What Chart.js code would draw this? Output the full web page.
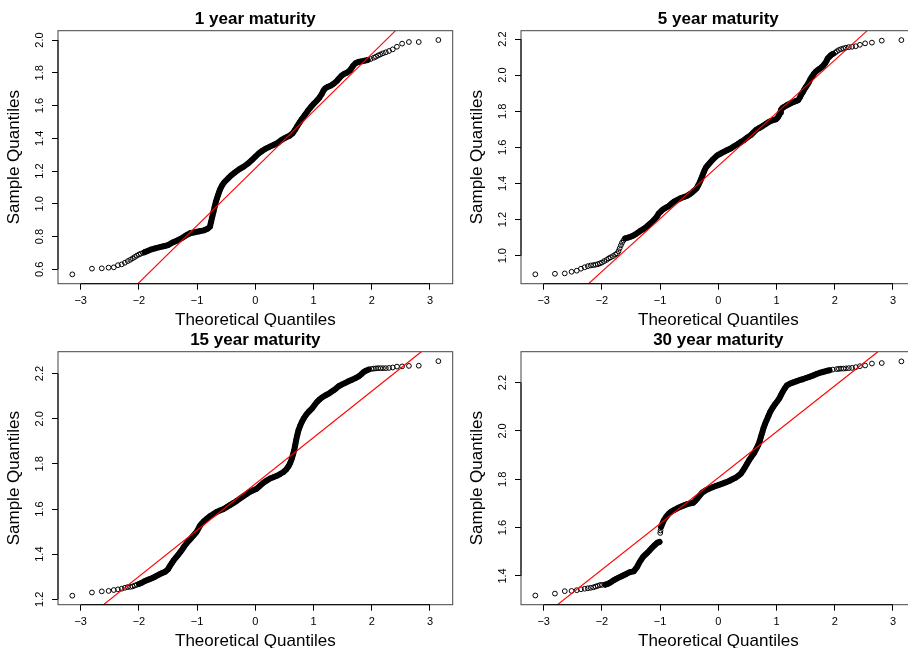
<!DOCTYPE html>
<html>
<head>
<meta charset="utf-8">
<title>Normal Q-Q plots by maturity</title>
<script src="https://cdn.jsdelivr.net/npm/chart.js@4.4.1/dist/chart.umd.min.js"></script>
<style>
  html, body { margin: 0; padding: 0; background: #fff; overflow: hidden; width: 908px; height: 654px; }
  canvas.panel { position: absolute; }
</style>
</head>
<body>
<canvas id="qq1" class="panel" width="454" height="327" style="left:0;top:0"></canvas>
<canvas id="qq5" class="panel" width="454" height="327" style="left:463px;top:0"></canvas>
<canvas id="qq15" class="panel" width="454" height="327" style="left:0;top:321px"></canvas>
<canvas id="qq30" class="panel" width="454" height="327" style="left:463px;top:321px"></canvas>
<script>
Chart.defaults.font.family = "'Liberation Sans', Arial, sans-serif";
Chart.defaults.color = '#000';
Chart.defaults.animation = false;
Chart.defaults.responsive = false;
Chart.defaults.events = [];
Chart.defaults.plugins.legend.display = false;
Chart.defaults.plugins.tooltip.enabled = false;

// shared x axis (theoretical quantiles)
const xTicks = [-3, -2, -1, 0, 1, 2, 3];
const xLimits = [-3.39, 3.39];

const titles = ['1 year maturity', '5 year maturity', '15 year maturity', '30 year maturity'];

const yTicks1 = [0.6, 0.8, 1.0, 1.2, 1.4, 1.6, 1.8, 2.0];
const yTicks5 = [1.0, 1.2, 1.4, 1.6, 1.8, 2.0, 2.2];
const yTicks15 = [1.2, 1.4, 1.6, 1.8, 2.0, 2.2];
const yTicks30 = [1.4, 1.6, 1.8, 2.0, 2.2];

const yLimits1 = [0.512, 2.057];
const yLimits5 = [0.845, 2.246];
const yLimits15 = [1.176, 2.297];
const yLimits30 = [1.281, 2.328];

// [theoretical, sample] quantile pairs
const q1 = [
  [-3.144,0.569],[-2.807,0.604],[-2.638,0.606],[-2.521,0.610],[-2.432,0.612],[-2.36,0.625],[-2.296,0.630],
  [-2.241,0.640],[-2.192,0.650],[-2.148,0.658],[-2.108,0.667],[-2.071,0.675],[-2.036,0.683],[-2.0,0.690],
  [-1.97,0.695],[-1.93,0.700],[-1.9,0.705],[-1.85,0.712],[-1.8,0.720],[-1.72,0.728],[-1.64,0.735],
  [-1.56,0.742],[-1.5,0.748],[-1.42,0.764],[-1.35,0.775],[-1.28,0.787],[-1.2,0.805],[-1.12,0.820],
  [-1.04,0.826],[-0.96,0.832],[-0.88,0.838],[-0.82,0.848],[-0.78,0.860],[-0.76,0.890],[-0.74,0.920],
  [-0.72,0.950],[-0.70,0.980],[-0.68,1.010],[-0.66,1.033],[-0.64,1.054],[-0.62,1.074],[-0.60,1.092],
  [-0.57,1.113],[-0.53,1.133],[-0.48,1.151],[-0.42,1.172],[-0.35,1.192],[-0.28,1.210],[-0.2,1.227],
  [-0.13,1.245],[-0.06,1.267],[0.0,1.288],[0.06,1.308],[0.12,1.324],[0.18,1.337],[0.25,1.349],
  [0.32,1.361],[0.39,1.373],[0.45,1.390],[0.52,1.404],[0.58,1.414],[0.64,1.430],[0.68,1.451],
  [0.72,1.475],[0.76,1.497],[0.8,1.518],[0.85,1.542],[0.9,1.567],[0.95,1.589],[1.0,1.609],
  [1.05,1.628],[1.1,1.648],[1.14,1.670],[1.17,1.691],[1.2,1.705],[1.25,1.715],[1.3,1.723],
  [1.35,1.735],[1.4,1.750],[1.44,1.766],[1.48,1.782],[1.52,1.792],[1.57,1.800],[1.62,1.813],
  [1.65,1.827],[1.68,1.843],[1.72,1.858],[1.77,1.866],[1.83,1.870],[1.88,1.874],[1.93,1.878],
  [1.98,1.884],[2.036,1.892],[2.071,1.898],[2.108,1.906],[2.148,1.912],[2.192,1.919],[2.241,1.925],
  [2.296,1.933],[2.36,1.943],[2.432,1.959],[2.521,1.978],[2.638,1.988],[2.807,1.988],[3.144,2.0]
];

const q5 = [
  [-3.144,0.897],[-2.807,0.900],[-2.638,0.902],[-2.521,0.911],[-2.432,0.917],[-2.36,0.928],[-2.296,0.936],
  [-2.241,0.942],[-2.192,0.946],[-2.148,0.948],[-2.108,0.950],[-2.071,0.953],[-2.036,0.957],[-2.0,0.962],
  [-1.96,0.970],[-1.92,0.977],[-1.885,0.985],[-1.85,0.991],[-1.81,0.998],[-1.77,1.006],[-1.74,1.013],
  [-1.715,1.025],[-1.695,1.041],[-1.675,1.057],[-1.655,1.072],[-1.63,1.085],[-1.6,1.096],[-1.555,1.100],
  [-1.51,1.105],[-1.465,1.111],[-1.425,1.118],[-1.38,1.128],[-1.34,1.138],[-1.295,1.146],[-1.253,1.155],
  [-1.21,1.167],[-1.167,1.179],[-1.12,1.193],[-1.08,1.207],[-1.05,1.220],[-1.023,1.234],[-0.985,1.246],
  [-0.948,1.257],[-0.9,1.266],[-0.851,1.275],[-0.81,1.287],[-0.764,1.299],[-0.71,1.308],[-0.649,1.318],
  [-0.59,1.325],[-0.534,1.332],[-0.49,1.341],[-0.448,1.351],[-0.41,1.362],[-0.374,1.373],[-0.345,1.390],
  [-0.316,1.410],[-0.296,1.425],[-0.276,1.441],[-0.256,1.458],[-0.236,1.474],[-0.21,1.490],[-0.178,1.502],
  [-0.14,1.516],[-0.103,1.530],[-0.06,1.543],[-0.017,1.556],[0.04,1.566],[0.098,1.576],[0.155,1.585],
  [0.213,1.594],[0.27,1.606],[0.328,1.617],[0.385,1.629],[0.443,1.641],[0.5,1.655],[0.557,1.668],
  [0.6,1.682],[0.644,1.696],[0.7,1.707],[0.759,1.718],[0.815,1.730],[0.874,1.742],[0.93,1.750],
  [0.989,1.755],[1.02,1.765],[1.046,1.779],[1.06,1.793],[1.075,1.807],[1.1,1.818],[1.132,1.825],
  [1.175,1.833],[1.218,1.840],[1.26,1.847],[1.305,1.853],[1.34,1.857],[1.374,1.862],[1.4,1.876],
  [1.42,1.890],[1.45,1.905],[1.477,1.921],[1.505,1.935],[1.534,1.949],[1.56,1.963],[1.58,1.978],
  [1.61,1.992],[1.638,2.006],[1.67,2.018],[1.707,2.028],[1.735,2.035],[1.764,2.041],[1.8,2.052],
  [1.833,2.065],[1.86,2.080],[1.879,2.093],[1.91,2.103],[1.937,2.111],[1.97,2.118],[2.006,2.124],
  [2.036,2.132],[2.071,2.139],[2.108,2.144],[2.148,2.148],[2.192,2.152],[2.241,2.155],[2.296,2.157],
  [2.36,2.160],[2.432,2.168],[2.521,2.176],[2.638,2.180],[2.807,2.191],[3.144,2.194]
];

const q15 = [
  [-3.144,1.216],[-2.807,1.230],[-2.638,1.235],[-2.521,1.237],[-2.432,1.241],[-2.36,1.244],[-2.296,1.247],
  [-2.241,1.251],[-2.192,1.254],[-2.148,1.255],[-2.108,1.257],[-2.071,1.261],[-2.036,1.264],[-2.0,1.268],
  [-1.96,1.272],[-1.902,1.280],[-1.86,1.285],[-1.816,1.289],[-1.77,1.294],[-1.73,1.299],[-1.69,1.305],
  [-1.644,1.311],[-1.6,1.316],[-1.557,1.321],[-1.53,1.326],[-1.5,1.333],[-1.48,1.342],[-1.46,1.351],
  [-1.43,1.362],[-1.402,1.373],[-1.365,1.385],[-1.328,1.396],[-1.29,1.409],[-1.253,1.422],[-1.22,1.435],
  [-1.184,1.447],[-1.14,1.460],[-1.098,1.472],[-1.055,1.485],[-1.011,1.498],[-0.98,1.512],[-0.954,1.525],
  [-0.92,1.536],[-0.885,1.546],[-0.83,1.558],[-0.782,1.568],[-0.72,1.578],[-0.667,1.587],[-0.61,1.593],
  [-0.552,1.599],[-0.495,1.608],[-0.437,1.617],[-0.38,1.626],[-0.322,1.636],[-0.265,1.646],[-0.207,1.656],
  [-0.15,1.666],[-0.092,1.676],[-0.035,1.683],[0.023,1.690],[0.08,1.703],[0.138,1.716],[0.195,1.726],
  [0.253,1.735],[0.31,1.741],[0.368,1.747],[0.425,1.755],[0.483,1.764],[0.53,1.775],[0.569,1.789],
  [0.6,1.805],[0.626,1.823],[0.648,1.842],[0.667,1.860],[0.685,1.883],[0.701,1.905],[0.72,1.927],
  [0.741,1.949],[0.768,1.968],[0.799,1.986],[0.835,2.003],[0.874,2.018],[0.92,2.032],[0.971,2.045],
  [1.015,2.060],[1.057,2.074],[1.1,2.085],[1.144,2.094],[1.2,2.103],[1.259,2.111],[1.3,2.118],
  [1.345,2.126],[1.39,2.135],[1.431,2.144],[1.49,2.152],[1.546,2.159],[1.6,2.166],[1.661,2.173],
  [1.72,2.180],[1.776,2.188],[1.82,2.197],[1.862,2.207],[1.9,2.213],[1.948,2.218],[2.0,2.221],
  [2.036,2.222],[2.071,2.223],[2.108,2.224],[2.148,2.224],[2.192,2.224],[2.241,2.224],[2.296,2.225],
  [2.36,2.227],[2.432,2.231],[2.521,2.232],[2.638,2.234],[2.807,2.235],[3.144,2.255]
];

const q30 = [
  [-3.144,1.319],[-2.807,1.327],[-2.638,1.337],[-2.521,1.338],[-2.432,1.341],[-2.36,1.345],[-2.296,1.347],
  [-2.241,1.349],[-2.192,1.351],[-2.148,1.353],[-2.108,1.356],[-2.071,1.359],[-2.036,1.362],[-2.0,1.363],
  [-1.943,1.364],[-1.9,1.367],[-1.868,1.371],[-1.83,1.377],[-1.799,1.382],[-1.755,1.388],[-1.713,1.393],
  [-1.67,1.398],[-1.626,1.403],[-1.583,1.408],[-1.54,1.414],[-1.5,1.417],[-1.454,1.419],[-1.425,1.428],
  [-1.397,1.437],[-1.375,1.447],[-1.351,1.458],[-1.32,1.469],[-1.293,1.479],[-1.26,1.487],[-1.224,1.495],
  [-1.18,1.506],[-1.138,1.517],[-1.095,1.527],[-1.052,1.537],[-1.01,1.541],[-0.998,1.578],[-0.993,1.588],
  [-0.983,1.603],[-0.96,1.617],[-0.937,1.630],[-0.895,1.645],[-0.851,1.658],[-0.81,1.666],[-0.764,1.672],
  [-0.705,1.680],[-0.649,1.686],[-0.59,1.692],[-0.534,1.697],[-0.48,1.700],[-0.431,1.703],[-0.395,1.711],
  [-0.362,1.720],[-0.32,1.733],[-0.276,1.745],[-0.22,1.754],[-0.161,1.761],[-0.1,1.767],[-0.046,1.772],
  [0.01,1.777],[0.069,1.782],[0.125,1.787],[0.184,1.793],[0.24,1.800],[0.299,1.807],[0.345,1.815],
  [0.385,1.823],[0.42,1.835],[0.454,1.848],[0.49,1.863],[0.529,1.879],[0.57,1.894],[0.615,1.909],
  [0.65,1.925],[0.684,1.941],[0.71,1.958],[0.73,1.975],[0.755,1.994],[0.776,2.012],[0.8,2.028],
  [0.828,2.044],[0.86,2.062],[0.891,2.079],[0.93,2.095],[0.971,2.110],[1.01,2.122],[1.046,2.134],
  [1.075,2.148],[1.103,2.161],[1.14,2.176],[1.178,2.189],[1.225,2.195],[1.276,2.200],[1.335,2.205],
  [1.391,2.210],[1.45,2.214],[1.506,2.219],[1.565,2.224],[1.621,2.229],[1.68,2.235],[1.736,2.240],
  [1.795,2.244],[1.851,2.248],[1.91,2.251],[1.966,2.254],[2.036,2.256],[2.071,2.257],[2.108,2.258],
  [2.148,2.258],[2.192,2.259],[2.241,2.260],[2.296,2.261],[2.36,2.264],[2.432,2.268],[2.521,2.271],
  [2.638,2.279],[2.807,2.281],[3.144,2.288]
];

// qqline end points where the reference line meets the plot frame
const line1 = [[-2.017, 0.512], [2.408, 2.057]];
const line5 = [[-2.23, 0.845], [2.557, 2.246]];
const line15 = [[-2.609, 1.176], [2.851, 2.297]];
const line30 = [[-2.764, 1.281], [2.741, 2.328]];

const panels = [
  { id: 'qq1',  title: titles[0], points: q1,  line: line1,  yTicks: yTicks1,  yLimits: yLimits1,  band: [[-1.9, 1.95]] },
  { id: 'qq5',  title: titles[1], points: q5,  line: line5,  yTicks: yTicks5,  yLimits: yLimits5,  band: [[-1.6, 2.0]] },
  { id: 'qq15', title: titles[2], points: q15, line: line15, yTicks: yTicks15, yLimits: yLimits15, band: [[-2.0, 1.95]] },
  { id: 'qq30', title: titles[3], points: q30, line: line30, yTicks: yTicks30, yLimits: yLimits30, band: [[-1.95, -1.0], [-0.985, 1.95]] }
];

const FONT = "'Liberation Sans', Arial, sans-serif";
const RED = 'rgb(255, 0, 0)';

// base-graphics look: box, axis lines spanning the ticks, vertical y labels
const rFrame = {
  id: 'rFrame',
  afterDraw(chart) {
    const { ctx, chartArea: a, scales: { x, y } } = chart;
    ctx.save();
    ctx.lineWidth = 1;
    ctx.strokeStyle = '#444';
    ctx.strokeRect(a.left, a.top, a.right - a.left, a.bottom - a.top);

    const xt = x.ticks, yt = y.ticks;
    ctx.strokeStyle = '#000';
    ctx.beginPath();
    ctx.moveTo(x.getPixelForValue(xt[0].value), a.bottom);
    ctx.lineTo(x.getPixelForValue(xt[xt.length - 1].value), a.bottom);
    ctx.moveTo(a.left, y.getPixelForValue(yt[0].value));
    ctx.lineTo(a.left, y.getPixelForValue(yt[yt.length - 1].value));
    ctx.stroke();

    ctx.fillStyle = '#000';
    ctx.font = '11px ' + FONT;
    ctx.textAlign = 'center';
    ctx.textBaseline = 'alphabetic';
    yt.forEach(t => {
      ctx.save();
      ctx.translate(a.left - 15, y.getPixelForValue(t.value));
      ctx.rotate(-Math.PI / 2);
      ctx.fillText(t.value.toFixed(1), 0, 0);
      ctx.restore();
    });
    ctx.restore();
  }
};

const toXY = pairs => pairs.map(([x, y]) => ({ x, y }));
const minus = v => (v < 0 ? '\u2212' + Math.abs(v) : String(v));

function qqChart(p) {
  const bandPts = p.points.filter(([x]) => p.band.some(([lo, hi]) => x >= lo && x <= hi));
  return new Chart(document.getElementById(p.id), {
    type: 'scatter',
    data: {
      datasets: [
        { // qqline
          data: toXY(p.line), showLine: true, borderColor: RED, backgroundColor: RED,
          borderWidth: 1.1, pointRadius: 0
        },
        { // open circles
          data: toXY(p.points), pointRadius: 2.4, pointBorderWidth: 1,
          pointBorderColor: '#000', pointBackgroundColor: 'rgba(0,0,0,0)', borderColor: '#000'
        },
        { // where the circles pile up into a solid band
          data: toXY(bandPts), showLine: true, pointRadius: 0, borderWidth: 6, borderColor: '#000',
          borderJoinStyle: 'round', borderCapStyle: 'round',
          segment: {
            borderColor: c => Math.hypot(c.p1.x - c.p0.x, c.p1.y - c.p0.y) > 9 ? 'rgba(0,0,0,0)' : '#000'
          }
        }
      ]
    },
    options: {
      layout: { autoPadding: false, padding: { top: 0, right: 1.3, bottom: 0, left: 0 } },
      plugins: {
        title: {
          display: true, text: p.title, fullSize: false, color: '#000',
          font: { size: 17, weight: 'bold', lineHeight: 1 },
          padding: { top: 11, bottom: 2.7 }
        }
      },
      scales: {
        x: {
          type: 'linear', position: 'bottom', min: xLimits[0], max: xLimits[1],
          afterBuildTicks: s => { s.ticks = xTicks.map(value => ({ value })); },
          afterFit: s => { s.height = 43.3; },
          ticks: { font: { size: 11 }, padding: 5, maxRotation: 0, callback: v => minus(v) },
          grid: { drawOnChartArea: false, drawTicks: true, tickLength: 6, color: '#000' },
          border: { display: false },
          title: { display: true, text: 'Theoretical Quantiles', font: { size: 17, lineHeight: 1 }, padding: { top: 0, bottom: -1.5 } }
        },
        y: {
          type: 'linear', position: 'left', min: p.yLimits[0], max: p.yLimits[1],
          afterBuildTicks: s => { s.ticks = p.yTicks.map(value => ({ value })); },
          afterFit: s => { s.width = 58; },
          ticks: { display: false },
          grid: { drawOnChartArea: false, drawTicks: true, tickLength: 6, color: '#000' },
          border: { display: false },
          title: { display: true, text: 'Sample Quantiles', font: { size: 17, lineHeight: 1 }, padding: { top: 6, bottom: 0 } }
        }
      }
    },
    plugins: [rFrame]
  });
}

panels.forEach(qqChart);
</script>
</body>
</html>
